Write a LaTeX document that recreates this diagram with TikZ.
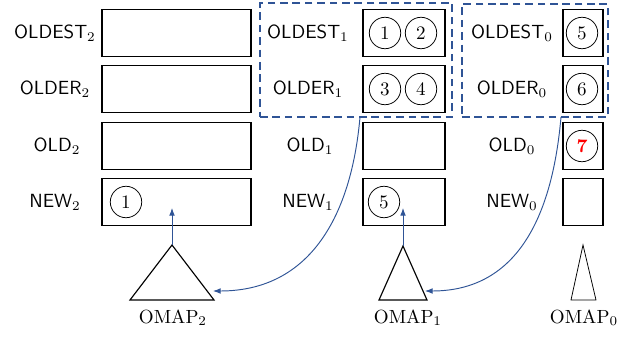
\documentclass[tikz,border=0pt]{standalone}
\usepackage{amsmath}
\usepackage{tikz}
\usetikzlibrary{arrows.meta}

\definecolor{mapblue}{RGB}{47,84,150}

\tikzset{
	box/.style={shape=rectangle,draw=black,semithick,minimum height=24.7pt,inner sep=0pt},
	wide/.style={box,minimum width=78.2pt},
	mid/.style={box,minimum width=43pt},
	slim/.style={box,minimum width=21pt},
	lbl/.style={font=\sffamily},
	num/.style={shape=circle,draw=black,minimum size=16.5pt,inner sep=0pt},
	group/.style={shape=rectangle,draw=mapblue,line width=1pt,dash pattern=on 4pt off 2.5pt,inner sep=0pt},
	link/.style={draw=mapblue,line width=0.5pt,-{Latex[length=4pt,width=3pt]}},
	tri/.style={draw=black,semithick,line join=miter},
}

\begin{document}
\begin{tikzpicture}[x=0.525pt,y=-0.525pt]
	\useasboundingbox (0,0) rectangle (634,337);
	
	% level 2
	\node[lbl] (loldest2) at (55,33)  {OLDEST$_2$};
	\node[lbl] (lolder2)  at (55,89)  {OLDER$_2$};
	\node[lbl] (lold2)    at (57,146) {OLD$_2$};
	\node[lbl] (lnew2)    at (55,202) {NEW$_2$};
	\node[wide] (oldest2) at (176.5,33)  {};
	\node[wide] (older2)  at (176.5,89)  {};
	\node[wide] (old2)    at (176.5,146) {};
	\node[wide] (new2)    at (176.5,202) {};
	\node[num] (n2a) at (126,202) {$1$};
	
	% level 1
	\node[lbl] (loldest1) at (308,33)  {OLDEST$_1$};
	\node[lbl] (lolder1)  at (308,89)  {OLDER$_1$};
	\node[lbl] (lold1)    at (310,146) {OLD$_1$};
	\node[lbl] (lnew1)    at (308,202) {NEW$_1$};
	\node[mid] (oldest1) at (404,33)  {};
	\node[mid] (older1)  at (404,89)  {};
	\node[mid] (old1)    at (404,146) {};
	\node[mid] (new1)    at (404,202) {};
	\node[num] (n1a) at (385,33) {$1$};
	\node[num] (n1b) at (421,33) {$2$};
	\node[num] (n1c) at (385,89) {$3$};
	\node[num] (n1d) at (421,89) {$4$};
	\node[num] (n1e) at (384,202) {$5$};
	
	% level 0
	\node[lbl] (loldest0) at (512,33)  {OLDEST$_0$};
	\node[lbl] (lolder0)  at (512,89)  {OLDER$_0$};
	\node[lbl] (lold0)    at (512,146) {OLD$_0$};
	\node[lbl] (lnew0)    at (512,202) {NEW$_0$};
	\node[slim] (oldest0) at (583,33)  {};
	\node[slim] (older0)  at (583,89)  {};
	\node[slim] (old0)    at (583,146) {};
	\node[slim] (new0)    at (583,202) {};
	\node[num] (n0a) at (582,33)  {$5$};
	\node[num] (n0b) at (582,89)  {$6$};
	\node[num] (n0c) at (582,146) {\textcolor{red}{$\boldsymbol{7}$}};
	
	% dashed groups
	\node[group,minimum width=100.8pt,minimum height=59.9pt] (grp1) at (356,60) {};
	\node[group,minimum width=76.7pt,minimum height=59.3pt] (grp0) at (535,60.5) {};
	
	% omaps
	\coordinate (top2) at (172,245);
	\coordinate (top1) at (403,246);
	\coordinate (top0) at (583,245);
	\draw[tri] (top2) -- (214,300) -- (130,300) -- cycle;
	\draw[tri] (top1) -- (427,300) -- (379,300) -- cycle;
	\draw[tri,thin] (top0) -- (596,300) -- (571,300) -- cycle;
	\node (omap2) at (173,318) {$\mathrm{OMAP}_2$};
	\node (omap1) at (408,318) {$\mathrm{OMAP}_1$};
	\node (omap0) at (584,318) {$\mathrm{OMAP}_0$};
	
	\coordinate (in2) at (172,208);
	\coordinate (in1) at (403,208);
	\coordinate (side2) at (213,291);
	\coordinate (side1) at (425,291);
	\coordinate (from1) at (360,117);
	\coordinate (from0) at (561,117);
	
	\path[link] (top2) -- (in2);
	\path[link] (top1) -- (in1);
	\path[link] (from1) to[out=-95,in=0,looseness=1.1] (side2);
	\path[link] (from0) to[out=-95,in=0,looseness=1.1] (side1);
	
\end{tikzpicture}
\end{document}
